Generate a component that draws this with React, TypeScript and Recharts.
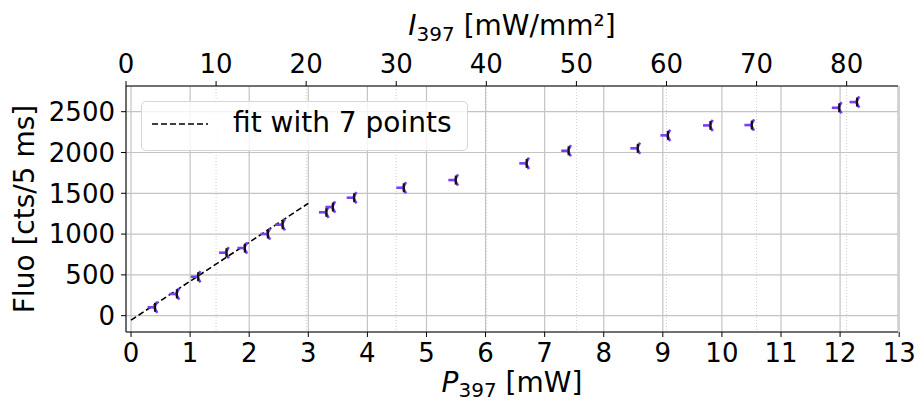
import React from "react";
import {
  ComposedChart,
  Scatter,
  XAxis,
  YAxis,
  CartesianGrid,
} from "recharts";

// measured power (mW) and fluorescence (cts / 5 ms)
const powerMw = [0.39, 0.76, 1.12, 1.6, 1.91, 2.3, 2.55, 3.29, 3.4, 3.76, 4.6, 5.48, 6.68, 7.39, 8.56, 9.07, 9.79, 10.49, 11.97, 12.27];
const fluoCts = [103, 266, 478, 772, 829, 1001, 1115, 1267, 1332, 1446, 1568, 1662, 1867, 2021, 2051, 2210, 2332, 2336, 2548, 2618];

// linear fit over the first 7 points, drawn from 0 to 3 mW
const fitX = [0, 3];
const fitY = [-55, 1377];

const bottomTicks = [0, 1, 2, 3, 4, 5, 6, 7, 8, 9, 10, 11, 12, 13];
const topTicks = [0, 10, 20, 30, 40, 50, 60, 70, 80];
const yTicks = [0, 500, 1000, 1500, 2000, 2500];

const points = powerMw.map((x, i) => ({ x, y: fluoCts[i] }));
const fitLine = fitX.map((x, i) => ({ x, y: fitY[i] }));

const FONT = "DejaVu Sans, sans-serif";
const PURPLE = "#7b3ff2";
const tickStyle = { fontSize: 26, fill: "#000", fontFamily: FONT };

// tri_left style marker
const TriLeft = (props: any) => {
  const { cx, cy } = props;
  if (cx == null || cy == null) return null;
  const r = 6.5;
  const dx = r * 0.5;
  const dy = r * 0.866;
  return (
    <g>
      <line x1={cx} y1={cy} x2={cx - r} y2={cy} stroke={PURPLE} strokeWidth={2.6} />
      <line x1={cx} y1={cy} x2={cx + dx} y2={cy - dy} stroke={PURPLE} strokeWidth={2.6} />
      <line x1={cx} y1={cy} x2={cx + dx} y2={cy + dy} stroke={PURPLE} strokeWidth={2.6} />
      <line x1={cx + 1} y1={cy - 4.5} x2={cx + 1} y2={cy + 4.5} stroke="#111" strokeWidth={2.2} />
    </g>
  );
};

const NoShape = () => null;

const BottomTitle = () => (
  <text x={512} y={392} textAnchor="middle" fontSize={28} fontFamily={FONT} fill="#000">
    <tspan fontStyle="italic">P</tspan>
    <tspan fontSize={20} dy={5}>397</tspan>
    <tspan dy={-5}> [mW]</tspan>
  </text>
);

const TopTitle = () => (
  <text x={512} y={35} textAnchor="middle" fontSize={28} fontFamily={FONT} fill="#000">
    <tspan fontStyle="italic">I</tspan>
    <tspan fontSize={20} dy={6}>397</tspan>
    <tspan dy={-6}> [mW/mm²]</tspan>
  </text>
);

const LeftTitle = () => (
  <text
    x={34}
    y={209}
    textAnchor="middle"
    fontSize={28}
    fontFamily={FONT}
    fill="#000"
    transform="rotate(-90 34 209)"
  >
    Fluo [cts/5 ms]
  </text>
);

export default function App() {
  return (
    <div style={{ position: "absolute", left: 0, top: 0, width: 918, height: 403, background: "#fff" }}>
      <ComposedChart width={918} height={403} margin={{ top: 0, right: 20, bottom: 0, left: 0 }}>
        <CartesianGrid xAxisId="bottom" yAxisId="left" stroke="#c4c4c4" strokeWidth={1.2} />
        <CartesianGrid xAxisId="top" yAxisId="left" horizontal={false} stroke="#cfcfcf" strokeDasharray="1 2" />
        <XAxis
          xAxisId="bottom"
          dataKey="x"
          type="number"
          domain={[-0.085, 12.98]}
          ticks={bottomTicks}
          allowDataOverflow
          height={71}
          tick={tickStyle}
          tickSize={5}
          tickMargin={7}
          stroke="#000"
          interval={0}
          label={{ content: () => <BottomTitle /> }}
        />
        <XAxis
          xAxisId="top"
          orientation="top"
          dataKey="x"
          type="number"
          domain={[0, 85.7]}
          ticks={topTicks}
          allowDataOverflow
          height={86}
          tick={tickStyle}
          tickSize={5}
          tickMargin={8}
          stroke="#000"
          interval={0}
          label={{ content: () => <TopTitle /> }}
        />
        <YAxis
          yAxisId="left"
          dataKey="y"
          type="number"
          domain={[-200, 2815]}
          ticks={yTicks}
          allowDataOverflow
          width={126}
          tick={tickStyle}
          tickSize={5}
          tickMargin={6}
          stroke="#000"
          interval={0}
          label={{ content: () => <LeftTitle /> }}
        />
        <YAxis
          yAxisId="right"
          orientation="right"
          type="number"
          domain={[-200, 2815]}
          width={0}
          tick={false}
          tickLine={false}
          stroke="#000"
        />
        <Scatter
          xAxisId="bottom"
          yAxisId="left"
          data={fitLine}
          line={{ stroke: "#000", strokeWidth: 1.6, strokeDasharray: "6 3" }}
          shape={NoShape}
          isAnimationActive={false}
        />
        <Scatter
          xAxisId="bottom"
          yAxisId="left"
          data={points}
          shape={TriLeft}
          isAnimationActive={false}
        />
        <Scatter xAxisId="top" yAxisId="right" data={[]} isAnimationActive={false} />
      </ComposedChart>
      <div
        style={{
          position: "absolute",
          left: 141,
          top: 101,
          width: 325,
          height: 48,
          border: "1px solid #d6d6d6",
          borderRadius: 5,
          background: "rgba(255,255,255,0.8)",
          fontFamily: FONT,
          fontSize: 28,
          color: "#000",
        }}
      >
        <svg width={70} height={48} style={{ position: "absolute", left: 0, top: 0 }}>
          <line x1={10} y1={22} x2={66} y2={22} stroke="#000" strokeWidth={1.6} strokeDasharray="6 3" />
        </svg>
        <span style={{ position: "absolute", left: 91, top: 4, whiteSpace: "nowrap", lineHeight: "34px" }}>
          fit with 7 points
        </span>
      </div>
    </div>
  );
}
